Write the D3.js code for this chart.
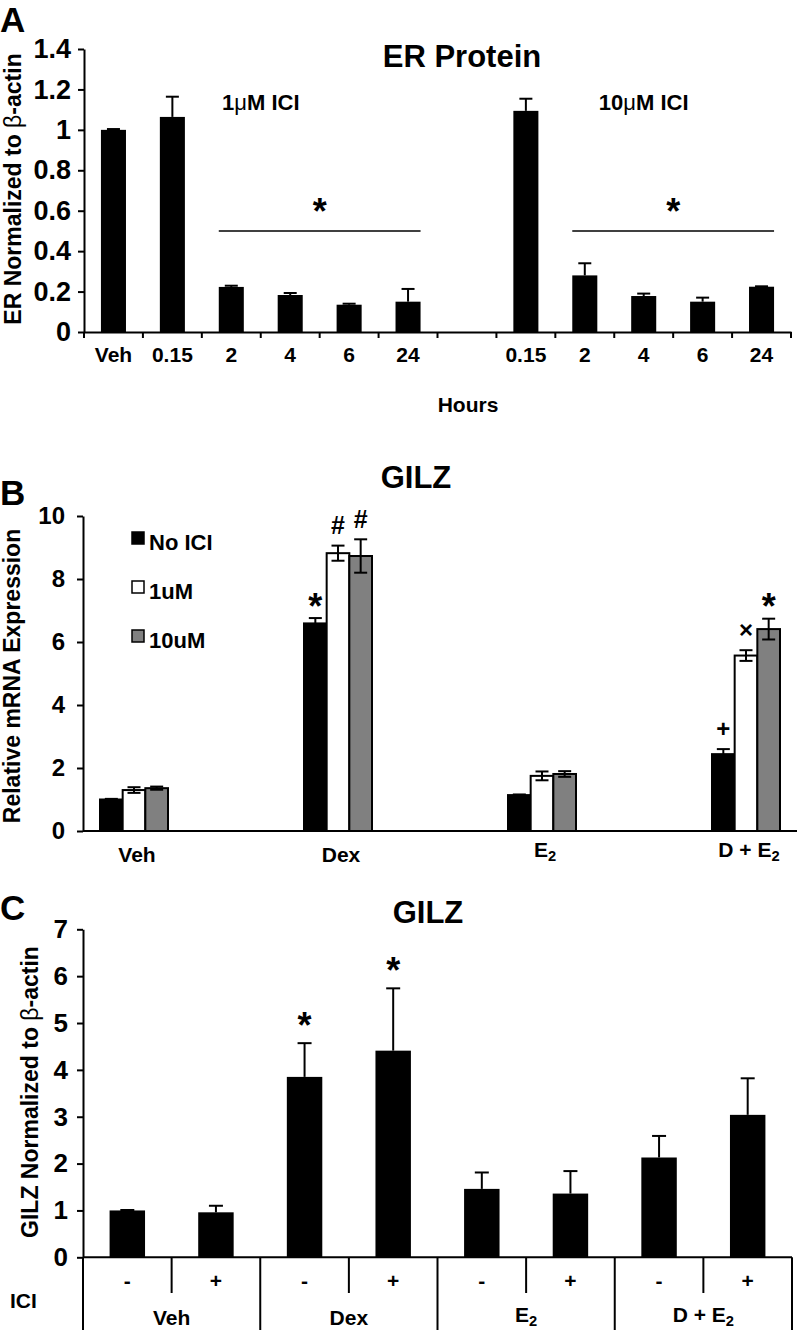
<!DOCTYPE html>
<html><head><meta charset="utf-8">
<script src="https://cdn.jsdelivr.net/npm/d3@7"></script>
<style>
body{margin:0;background:#fff}
svg{display:block}
text{font-family:'Liberation Sans',Arial,Helvetica,sans-serif;font-weight:bold;fill:#000}
</style>
</head><body>
<svg id="chart" width="800" height="1334"></svg>
<script>
// ---------- Panel A data : ER protein ----------
const erLabels = ["Veh","0.15","2","4","6","24","","0.15","2","4","6","24"];
const erValues = [1.0, 1.064, 0.223, 0.183, 0.135, 0.15, null, 1.094, 0.28, 0.178, 0.15, 0.224];
const erErrors = [0.004, 0.10, 0.006, 0.01, 0.005, 0.063, null, 0.06, 0.06, 0.012, 0.02, 0.002];
const erTicks  = [0, 0.2, 0.4, 0.6, 0.8, 1, 1.2, 1.4];
const erSigFrom = [2, 8];
const erSigTo   = [5, 11];
const erSigLevel = 0.5;

// ---------- Panel B data : GILZ mRNA ----------
const bGroups = ["Veh","Dex","E2","D + E2"];
const bSeries = ["No ICI","1uM","10uM"];
const bNoICI  = [1.0, 6.59, 1.14, 2.44];
const bNoICIErr = [0.02, 0.17, 0.02, 0.16];
const b1uM    = [1.30, 8.82, 1.75, 5.57];
const b1uMErr = [0.09, 0.24, 0.14, 0.17];
const b10uM   = [1.36, 8.73, 1.81, 6.41];
const b10uMErr = [0.05, 0.53, 0.09, 0.33];
const bTicks  = [0, 2, 4, 6, 8, 10];
const bNotes  = [["Dex","No ICI","*"],["Dex","1uM","#"],["Dex","10uM","#"],
                 ["D + E2","No ICI","+"],["D + E2","1uM","×"],["D + E2","10uM","*"]];

// ---------- Panel C data : GILZ protein ----------
const cIci    = ["-","+","-","+","-","+","-","+"];
const cGroups = ["Veh","Dex","E2","D + E2"];
const cValues = [1.0, 0.96, 3.85, 4.41, 1.46, 1.36, 2.13, 3.04];
const cErrors = [0.01, 0.14, 0.72, 1.33, 0.35, 0.48, 0.46, 0.78];
const cTicks  = [0, 1, 2, 3, 4, 5, 6, 7];
const cStars  = [2, 3];

const svg = d3.select("#chart");
const fillOf = {"No ICI":"#000","1uM":"#fff","10uM":"#808080"};
const fmt = d3.format("~g");

function subLabel(sel, txt) {
  if (txt.endsWith("E2")) {
    sel.append("tspan").text(txt.slice(0, -1));
    sel.append("tspan").attr("font-size", "0.7em").attr("dy", "0.3em").text("2");
  } else sel.text(txt);
}
function styleAxis(g, fs) {
  g.attr("font-size", fs);
  g.select(".domain").attr("stroke-width", 2).attr("stroke", "#000");
  g.selectAll(".tick line").attr("stroke-width", 2).attr("stroke", "#000");
  g.selectAll(".tick text").attr("fill", "#000");
}
function upErr(g, cx, y0, y1, cap) {
  g.append("line").attr("x1", cx).attr("x2", cx).attr("y1", y0).attr("y2", y1)
    .attr("stroke", "#000").attr("stroke-width", 2);
  g.append("line").attr("x1", cx - cap/2).attr("x2", cx + cap/2).attr("y1", y1).attr("y2", y1)
    .attr("stroke", "#000").attr("stroke-width", 2);
}
function star(g, x, cy, t, fs) {
  const k = t === "*" ? 0.57 : 0.34;
  g.append("text").attr("x", x).attr("y", cy + k*fs).attr("text-anchor", "middle")
    .attr("font-size", fs).text(t);
}

// ================= PANEL A =================
{
  const g = svg.append("g");
  const xA = d3.scaleBand().domain(d3.range(erLabels.length)).range([84, 791])
    .paddingInner(0.575).paddingOuter(0.2875);
  const yA = d3.scaleLinear().domain([0, 1.4]).range([332, 49]);
  const bw = xA.bandwidth();
  const data = erValues.map((v, i) => ({v, i, e: erErrors[i]})).filter(d => d.v != null);

  g.selectAll("rect.bar").data(data).join("rect").attr("class", "bar")
    .attr("x", d => xA(d.i)).attr("y", d => yA(d.v)).attr("width", bw)
    .attr("height", d => yA(0) - yA(d.v)).attr("fill", "#000");
  data.forEach(d => upErr(g, xA(d.i) + bw/2, yA(d.v), yA(d.v + d.e), 13));

  const ya = g.append("g").attr("transform", "translate(84,0)")
    .call(d3.axisLeft(yA).tickValues(erTicks).tickSize(6).tickSizeOuter(0).tickPadding(7).tickFormat(fmt));
  styleAxis(ya, 27);

  const xa = g.append("g").attr("transform", "translate(0,332)")
    .call(d3.axisBottom(xA).tickSize(0).tickSizeOuter(0).tickPadding(15).tickFormat(i => erLabels[i]));
  styleAxis(xa, 21);
  const r0 = xA.range()[0];
  g.selectAll("line.bt").data(d3.range(erLabels.length + 1)).join("line").attr("class", "bt")
    .attr("x1", i => r0 + i*xA.step()).attr("x2", i => r0 + i*xA.step())
    .attr("y1", 332).attr("y2", 338).attr("stroke", "#000").attr("stroke-width", 2);

  erSigFrom.forEach((f, k) => {
    const x1 = xA(f), x2 = xA(erSigTo[k]) + bw;
    g.append("line").attr("x1", x1).attr("x2", x2).attr("y1", yA(erSigLevel)).attr("y2", yA(erSigLevel))
      .attr("stroke", "#000").attr("stroke-width", 1.5);
    star(g, (x1 + x2)/2, yA(erSigLevel) - 27, "*", 36);
  });
  const doseAt = [3.0, 9.5], doses = ["1", "10"];
  doses.forEach((d, k) => {
    const t = g.append("text").attr("x", r0 + doseAt[k]*xA.step()).attr("y", 110)
      .attr("text-anchor", "middle").attr("font-size", 22);
    t.append("tspan").text(d);
    t.append("tspan").attr("font-weight", "normal").text("μ");
    t.append("tspan").text("M ICI");
  });

  g.append("text").attr("x", 462).attr("y", 67).attr("text-anchor", "middle").attr("font-size", 31).text("ER Protein");
  g.append("text").attr("x", 468).attr("y", 412).attr("text-anchor", "middle").attr("font-size", 21).text("Hours");
  g.append("text").attr("x", 0).attr("y", 32).attr("font-size", 35).text("A");
  const yt = g.append("text").attr("transform", "translate(13,189) rotate(-90)").attr("dy", "0.36em")
    .attr("text-anchor", "middle").attr("font-size", 23);
  yt.append("tspan").text("ER Normalized to ");
  yt.append("tspan").attr("font-weight", "normal").text("β");
  yt.append("tspan").text("-actin");
}

// ================= PANEL B =================
{
  const g = svg.append("g");
  const xB = d3.scalePoint().domain(bGroups).range([134, 746]);
  const xS = d3.scaleBand().domain(bSeries).range([-34, 34]);
  const yB = d3.scaleLinear().domain([0, 10]).range([831, 516]);
  const bw = xS.bandwidth();
  const vals = {"No ICI": bNoICI, "1uM": b1uM, "10uM": b10uM};
  const errs = {"No ICI": bNoICIErr, "1uM": b1uMErr, "10uM": b10uMErr};
  const data = [];
  bGroups.forEach((gr, gi) => bSeries.forEach(s => data.push({gr, s, v: vals[s][gi], e: errs[s][gi]})));

  g.selectAll("rect.bar").data(data).join("rect").attr("class", "bar")
    .attr("x", d => xB(d.gr) + xS(d.s)).attr("y", d => yB(d.v)).attr("width", bw)
    .attr("height", d => yB(0) - yB(d.v)).attr("fill", d => fillOf[d.s])
    .attr("stroke", "#000").attr("stroke-width", 2);
  data.forEach(d => {
    const cx = xB(d.gr) + xS(d.s) + bw/2;
    const lo = yB(d.v - d.e), hi = yB(d.v + d.e);
    g.append("line").attr("x1", cx).attr("x2", cx).attr("y1", lo).attr("y2", hi).attr("stroke", "#000").attr("stroke-width", 2);
    [lo, hi].forEach(y => g.append("line").attr("x1", cx - 6.5).attr("x2", cx + 6.5).attr("y1", y).attr("y2", y)
      .attr("stroke", "#000").attr("stroke-width", 2));
  });

  const ya = g.append("g").attr("transform", "translate(83,0)")
    .call(d3.axisLeft(yB).tickValues(bTicks).tickSize(6).tickSizeOuter(0).tickPadding(12).tickFormat(fmt));
  styleAxis(ya, 24);
  g.append("line").attr("x1", 83).attr("x2", 797).attr("y1", yB(0)).attr("y2", yB(0))
    .attr("stroke", "#000").attr("stroke-width", 2);

  bGroups.forEach(gr => {
    const t = g.append("text").attr("x", xB(gr) + 3).attr("y", gr.endsWith("E2") ? 857 : 862)
      .attr("text-anchor", "middle").attr("font-size", 21);
    subLabel(t, gr);
  });

  bNotes.forEach(([gr, s, t]) => {
    const gi = bGroups.indexOf(gr);
    const top = yB(vals[s][gi] + errs[s][gi]);
    const fs = t === "*" ? 36 : (t === "#" ? 25 : 24);
    star(g, xB(gr) + xS(s) + bw/2, top - 20, t, fs);
  });

  bSeries.forEach((s, k) => {
    const y = 532 + k*49;
    g.append("rect").attr("x", 132).attr("y", y).attr("width", 12).attr("height", 12)
      .attr("fill", fillOf[s]).attr("stroke", "#000").attr("stroke-width", 1.5);
    g.append("text").attr("x", 149).attr("y", y + 18).attr("font-size", 22).text(s);
  });

  g.append("text").attr("x", 416).attr("y", 488).attr("text-anchor", "middle").attr("font-size", 31).text("GILZ");
  g.append("text").attr("x", 0).attr("y", 505).attr("font-size", 35).text("B");
  g.append("text").attr("transform", "translate(12,676) rotate(-90)").attr("dy", "0.36em")
    .attr("text-anchor", "middle").attr("font-size", 23).text("Relative mRNA Expression");
}

// ================= PANEL C =================
{
  const g = svg.append("g");
  const xC = d3.scaleBand().domain(d3.range(cValues.length)).range([83, 792]).paddingInner(0.6).paddingOuter(0.3);
  const yC = d3.scaleLinear().domain([0, 7]).range([1257.3, 929.3]);
  const bw = xC.bandwidth();
  const data = cValues.map((v, i) => ({v, i, e: cErrors[i]}));

  g.selectAll("rect.bar").data(data).join("rect").attr("class", "bar")
    .attr("x", d => xC(d.i)).attr("y", d => yC(d.v)).attr("width", bw)
    .attr("height", d => yC(0) - yC(d.v)).attr("fill", "#000");
  data.forEach(d => upErr(g, xC(d.i) + bw/2, yC(d.v), yC(d.v + d.e), 14));

  const ya = g.append("g").attr("transform", "translate(83,0)")
    .call(d3.axisLeft(yC).tickValues(cTicks).tickSize(6).tickSizeOuter(0).tickPadding(9).tickFormat(fmt));
  styleAxis(ya, 26);
  const r0 = xC.range()[0], st = xC.step();
  g.append("line").attr("x1", r0).attr("x2", xC.range()[1]).attr("y1", yC(0)).attr("y2", yC(0))
    .attr("stroke", "#000").attr("stroke-width", 2);
  g.selectAll("line.tb").data(d3.range(cValues.length + 1)).join("line").attr("class", "tb")
    .attr("x1", i => r0 + i*st).attr("x2", i => r0 + i*st)
    .attr("y1", yC(0)).attr("y2", i => i % 2 ? 1293 : 1330)
    .attr("stroke", "#000").attr("stroke-width", 2);

  cIci.forEach((s, i) => g.append("text").attr("x", xC(i) + bw/2).attr("y", 1288)
    .attr("text-anchor", "middle").attr("font-size", 21).text(s));
  g.append("text").attr("x", 10).attr("y", 1308).attr("font-size", 21).text("ICI");
  cGroups.forEach((gr, k) => {
    const t = g.append("text").attr("x", r0 + (2*k + 1)*st).attr("y", gr.endsWith("E2") ? 1322 : 1325)
      .attr("text-anchor", "middle").attr("font-size", 21);
    subLabel(t, gr);
  });

  cStars.forEach(i => star(g, xC(i) + bw/2, yC(cValues[i] + cErrors[i]) - 26, "*", 36));

  g.append("text").attr("x", 428).attr("y", 923).attr("text-anchor", "middle").attr("font-size", 31).text("GILZ");
  g.append("text").attr("x", 0).attr("y", 920).attr("font-size", 35).text("C");
  const yt = g.append("text").attr("transform", "translate(29.5,1092) rotate(-90)").attr("dy", "0.36em")
    .attr("text-anchor", "middle").attr("font-size", 23);
  yt.append("tspan").text("GILZ Normalized to ");
  yt.append("tspan").attr("font-weight", "normal").text("β");
  yt.append("tspan").text("-actin");
}
</script>
</body></html>
